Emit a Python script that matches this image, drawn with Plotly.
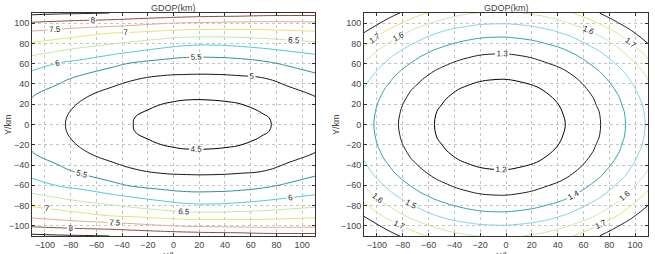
import plotly.graph_objects as go

# ---------------- data (GDOP in km) ----------------
x_left = [-110, -90, -70, -50, -30, -10, 10, 30, 50, 70, 90, 110]
y_left = [-110, -100, -90, -80, -70, -60, -45, -30, -22, -15, -7, 0,
          7, 15, 22, 30, 45, 60, 70, 80, 90, 100, 110]
gdop_left = [
    [8.62, 8.57, 8.54, 8.50, 8.46, 8.41, 8.35, 8.30, 8.28, 8.22, 8.20, 8.20],
    [7.94, 7.87, 7.80, 7.75, 7.65, 7.54, 7.46, 7.43, 7.40, 7.38, 7.39, 7.40],
    [7.38, 7.26, 7.13, 7.00, 6.92, 6.83, 6.75, 6.73, 6.75, 6.79, 6.84, 6.90],
    [6.96, 6.81, 6.67, 6.55, 6.40, 6.25, 6.10, 6.07, 6.13, 6.22, 6.33, 6.42],
    [6.58, 6.41, 6.23, 6.07, 5.90, 5.73, 5.63, 5.63, 5.67, 5.77, 5.90, 6.02],
    [6.19, 5.98, 5.83, 5.63, 5.44, 5.35, 5.29, 5.28, 5.32, 5.41, 5.57, 5.73],
    [5.78, 5.61, 5.37, 5.18, 5.02, 4.91, 4.88, 4.88, 4.91, 4.97, 5.17, 5.35],
    [5.54, 5.31, 5.07, 4.88, 4.73, 4.63, 4.58, 4.59, 4.63, 4.69, 4.84, 5.04],
    [5.45, 5.20, 4.96, 4.77, 4.62, 4.52, 4.47, 4.47, 4.51, 4.59, 4.71, 4.90],
    [5.39, 5.13, 4.89, 4.71, 4.55, 4.46, 4.41, 4.40, 4.44, 4.53, 4.64, 4.81],
    [5.35, 5.08, 4.85, 4.66, 4.50, 4.41, 4.36, 4.35, 4.39, 4.48, 4.58, 4.76],
    [5.34, 5.07, 4.84, 4.65, 4.49, 4.40, 4.35, 4.34, 4.38, 4.47, 4.57, 4.74],
    [5.35, 5.08, 4.85, 4.66, 4.50, 4.41, 4.36, 4.35, 4.39, 4.48, 4.58, 4.76],
    [5.39, 5.13, 4.89, 4.71, 4.55, 4.46, 4.41, 4.40, 4.44, 4.53, 4.64, 4.81],
    [5.45, 5.20, 4.96, 4.77, 4.62, 4.52, 4.47, 4.47, 4.51, 4.59, 4.71, 4.90],
    [5.54, 5.31, 5.07, 4.88, 4.73, 4.63, 4.58, 4.59, 4.63, 4.69, 4.84, 5.04],
    [5.78, 5.61, 5.37, 5.18, 5.02, 4.91, 4.88, 4.88, 4.91, 4.97, 5.17, 5.35],
    [6.19, 5.98, 5.83, 5.63, 5.44, 5.35, 5.29, 5.28, 5.32, 5.41, 5.57, 5.73],
    [6.58, 6.41, 6.23, 6.07, 5.90, 5.73, 5.63, 5.63, 5.67, 5.77, 5.90, 6.02],
    [6.96, 6.81, 6.67, 6.55, 6.40, 6.25, 6.10, 6.07, 6.13, 6.22, 6.33, 6.42],
    [7.38, 7.26, 7.13, 7.00, 6.92, 6.83, 6.75, 6.73, 6.75, 6.79, 6.84, 6.90],
    [7.94, 7.87, 7.80, 7.75, 7.65, 7.54, 7.46, 7.43, 7.40, 7.38, 7.39, 7.40],
    [8.62, 8.57, 8.54, 8.50, 8.46, 8.41, 8.35, 8.30, 8.28, 8.22, 8.20, 8.20],
]

x_right = [-110, -90, -70, -50, -30, -10, 10, 30, 50, 70, 90, 110]
y_right = [-110, -90, -70, -50, -30, -10, 10, 30, 50, 70, 90, 110]
gdop_right = [
    [1.986, 1.842, 1.734, 1.657, 1.609, 1.589, 1.595, 1.629, 1.691, 1.784, 1.910, 2.073],
    [1.794, 1.660, 1.559, 1.487, 1.443, 1.424, 1.431, 1.462, 1.519, 1.605, 1.723, 1.875],
    [1.650, 1.523, 1.428, 1.361, 1.319, 1.302, 1.308, 1.337, 1.391, 1.472, 1.582, 1.727],
    [1.547, 1.426, 1.335, 1.272, 1.232, 1.216, 1.221, 1.249, 1.300, 1.377, 1.482, 1.620],
    [1.481, 1.364, 1.276, 1.215, 1.177, 1.161, 1.166, 1.193, 1.242, 1.316, 1.418, 1.552],
    [1.449, 1.333, 1.247, 1.187, 1.150, 1.134, 1.139, 1.165, 1.214, 1.287, 1.387, 1.519],
    [1.449, 1.333, 1.247, 1.187, 1.150, 1.134, 1.139, 1.165, 1.214, 1.287, 1.387, 1.519],
    [1.481, 1.364, 1.276, 1.215, 1.177, 1.161, 1.166, 1.193, 1.242, 1.316, 1.418, 1.552],
    [1.547, 1.426, 1.335, 1.272, 1.232, 1.216, 1.221, 1.249, 1.300, 1.377, 1.482, 1.620],
    [1.650, 1.523, 1.428, 1.361, 1.319, 1.302, 1.308, 1.337, 1.391, 1.472, 1.582, 1.727],
    [1.794, 1.660, 1.559, 1.487, 1.443, 1.424, 1.431, 1.462, 1.519, 1.605, 1.723, 1.875],
    [1.986, 1.842, 1.734, 1.657, 1.609, 1.589, 1.595, 1.629, 1.691, 1.784, 1.910, 2.073],
]

tick_vals = [-100, -80, -60, -40, -20, 0, 20, 40, 60, 80, 100]
title_text = "GDOP(km)"
x_title = "X/km"
y_title = "Y/km"

# ---------------- figure ----------------
W, H = 655, 254
left_px = (32, 315)
right_px = (364, 648)
top_px, bottom_px = 13, 236

def dom_x(p):
    return [p[0] / W, p[1] / W]

dom_y = [(H - bottom_px) / H, (H - top_px) / H]

cs_left = [
    [0.0, "#000000"], [0.125, "#151515"], [0.25, "#2a8f9c"], [0.375, "#4cc8d8"],
    [0.5, "#bfe6a8"], [0.625, "#e8e070"], [0.75, "#e6a88c"], [0.875, "#8e4a3c"],
    [1.0, "#2a1e1e"],
]
cs_right = [
    [0.0, "#000000"], [1 / 6, "#202020"], [2 / 6, "#2fa2ae"], [3 / 6, "#7fd6e0"],
    [4 / 6, "#cbe8b0"], [5 / 6, "#e8e07a"], [1.0, "#2a1e1e"],
]

fig = go.Figure()
fig.add_trace(go.Contour(
    x=x_left, y=y_left, z=gdop_left,
    contours=dict(coloring="lines", start=4.5, end=8.5, size=0.5,
                  showlabels=True, labelformat=".1~f",
                  labelfont=dict(size=8, color="#222222", family="Liberation Sans")),
    colorscale=cs_left, zmin=4.5, zmax=8.5, showscale=False,
    line=dict(width=1, smoothing=1.3),
    xaxis="x", yaxis="y", hoverinfo="skip",
))
fig.add_trace(go.Contour(
    x=x_right, y=y_right, z=gdop_right,
    contours=dict(coloring="lines", start=1.2, end=1.8, size=0.1,
                  showlabels=True, labelformat=".1~f",
                  labelfont=dict(size=8, color="#222222", family="Liberation Sans")),
    colorscale=cs_right, zmin=1.2, zmax=1.8, showscale=False,
    line=dict(width=1, smoothing=1.3),
    xaxis="x2", yaxis="y2", hoverinfo="skip",
))

axis_common = dict(
    range=[-110, 110], tickvals=tick_vals, ticks="inside", ticklen=3,
    tickcolor="#333", showline=True, linecolor="#333", linewidth=1, mirror="ticks",
    showgrid=True, gridcolor="#c4c4c4", griddash="dot", gridwidth=1,
    zeroline=False, tickfont=dict(size=9, color="#444", family="Liberation Sans"),
    automargin=False,
)
fig.update_layout(
    width=W, height=H,
    margin=dict(l=0, r=0, t=0, b=0),
    paper_bgcolor="white", plot_bgcolor="white",
    showlegend=False,
    xaxis=dict(domain=dom_x(left_px), anchor="y", **axis_common),
    yaxis=dict(domain=dom_y, anchor="x", **axis_common),
    xaxis2=dict(domain=dom_x(right_px), anchor="y2", **axis_common),
    yaxis2=dict(domain=dom_y, anchor="x2", **axis_common),
)

anns = []
for p in (left_px, right_px):
    cx = (p[0] + p[1]) / 2 / W
    anns.append(dict(text=title_text, x=cx, y=(H - 1) / H, xref="paper", yref="paper",
                     xanchor="center", yanchor="top", showarrow=False,
                     font=dict(size=9, color="#444", family="Liberation Sans")))
    anns.append(dict(text=x_title, x=cx, y=(H - 249) / H, xref="paper", yref="paper",
                     xanchor="center", yanchor="top", showarrow=False,
                     font=dict(size=9, color="#444", family="Liberation Sans")))
anns.append(dict(text=y_title, x=8 / W, y=(H - 125) / H, xref="paper", yref="paper",
                 xanchor="center", yanchor="middle", textangle=-90, showarrow=False,
                 font=dict(size=9, color="#444", family="Liberation Sans")))
anns.append(dict(text=y_title, x=336 / W, y=(H - 125) / H, xref="paper", yref="paper",
                 xanchor="center", yanchor="middle", textangle=-90, showarrow=False,
                 font=dict(size=9, color="#444", family="Liberation Sans")))
fig.update_layout(annotations=anns)

fig.write_html("out.html")
